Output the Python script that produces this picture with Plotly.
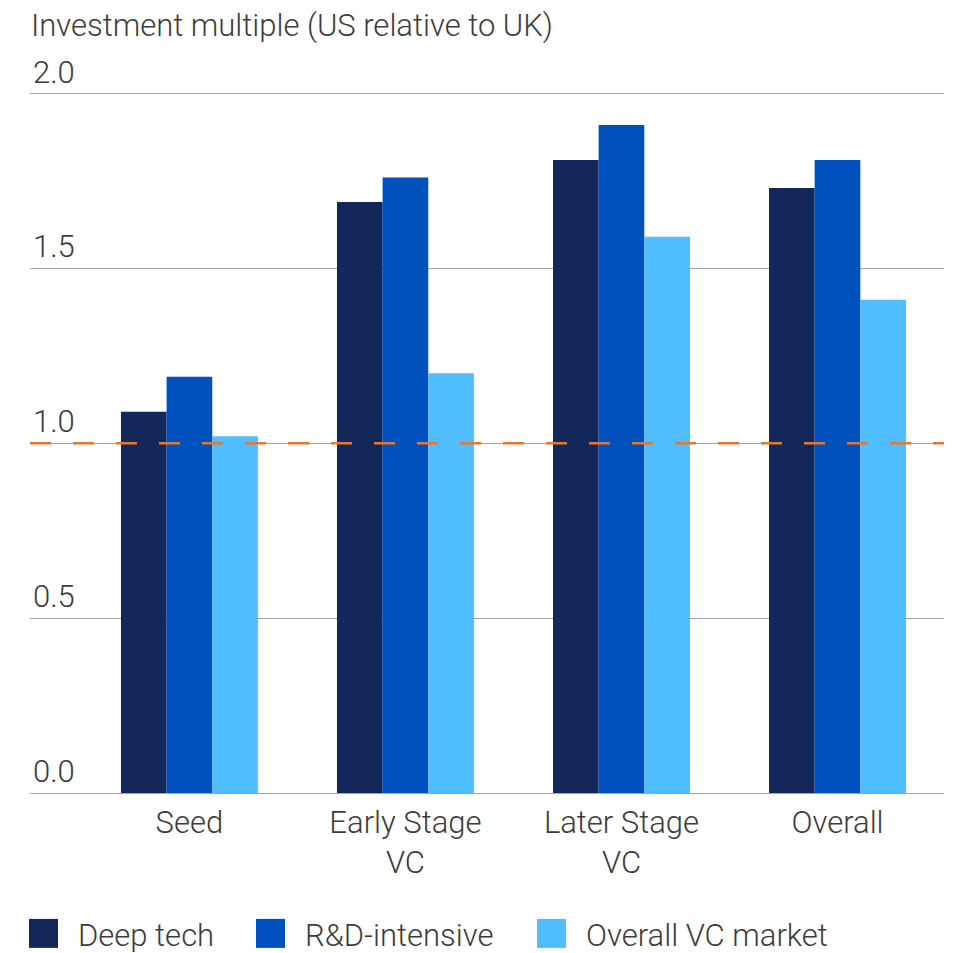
import plotly.graph_objects as go

# Investment multiple of US relative to UK, by funding stage
categories = ["Seed", "Early Stage<br>VC", "Later Stage<br>VC", "Overall"]
deep_tech = [1.09, 1.69, 1.81, 1.73]
rd_intensive = [1.19, 1.76, 1.91, 1.81]
overall_vc = [1.02, 1.20, 1.59, 1.41]

series_names = ["Deep tech", "R&D-intensive", "Overall VC market"]
series_colors = ["#14275a", "#0050be", "#50befe"]
y_ticks = [0.0, 0.5, 1.0, 1.5, 2.0]
parity_level = 1.0

FONT = "Roboto"
WEIGHT = 300
SIZE = 31
TEXT_COLOR = "#3c3c3c"
GRID_COLOR = "#a3a3a3"

fig = go.Figure()
for name, vals, color in zip(series_names, [deep_tech, rd_intensive, overall_vc], series_colors):
    fig.add_trace(go.Bar(x=list(range(len(categories))), y=vals, name=name,
                         marker=dict(color=color, line=dict(width=0)),
                         showlegend=False))

# Parity line (US = UK)
fig.add_shape(type="line", xref="paper", yref="y", x0=0, x1=1,
              y0=parity_level, y1=parity_level,
              line=dict(color="#e8772e", width=2.5, dash="21px,22px"), layer="above")

# Legend: square swatch + label per series, laid out along the bottom
legend_x = [29, 256, 537]   # left edge of each swatch, px
swatch = 29
legend_top = 919
W, H = 957, 953
ML, MR, MT, MB = 30, 13, 5.5, 160
pw, ph = W - ML - MR, H - MT - MB

def px_x(p):
    return (p - ML) / pw

def px_y(p):
    return (H - MB - p) / ph

annotations = [dict(text="Investment multiple (US relative to UK)",
                    xref="paper", yref="paper", x=px_x(29), y=px_y(25),
                    xanchor="left", yanchor="middle", showarrow=False,
                    font=dict(family=FONT, weight=WEIGHT, size=SIZE, color=TEXT_COLOR))]
for name, color, lx in zip(series_names, series_colors, legend_x):
    fig.add_shape(type="rect", xref="paper", yref="paper",
                  x0=px_x(lx), x1=px_x(lx + swatch),
                  y0=px_y(legend_top + swatch), y1=px_y(legend_top),
                  fillcolor=color, line=dict(width=0))
    annotations.append(dict(text=name, xref="paper", yref="paper",
                            x=px_x(lx + swatch + 18), y=px_y(legend_top + swatch / 2 + 2),
                            xanchor="left", yanchor="middle", showarrow=False,
                            font=dict(family=FONT, weight=WEIGHT, size=SIZE, color=TEXT_COLOR)))

fig.update_layout(
    width=W, height=H,
    margin=dict(l=ML, r=MR, t=MT, b=MB, autoexpand=False),
    paper_bgcolor="white", plot_bgcolor="white",
    barmode="group", bargap=0.366, bargroupgap=0,
    font=dict(family=FONT, weight=WEIGHT, size=SIZE, color=TEXT_COLOR),
    showlegend=False,
    xaxis=dict(range=[-0.738, 3.493], tickmode="array",
               tickvals=list(range(len(categories))), ticktext=categories,
               showgrid=False, zeroline=False, showline=False, ticks="",
               automargin=False, ticklabelstandoff=8,
               tickfont=dict(family=FONT, weight=WEIGHT, size=SIZE, color=TEXT_COLOR),
               fixedrange=True),
    yaxis=dict(range=[0, 2.25], tickmode="array", tickvals=y_ticks,
               ticktext=[f"{v:.1f}" for v in y_ticks],
               ticklabelposition="inside top", showgrid=True,
               gridcolor=GRID_COLOR, gridwidth=1, zeroline=True,
               zerolinecolor=GRID_COLOR, zerolinewidth=1, showline=False,
               ticks="", automargin=False,
               tickfont=dict(family=FONT, weight=WEIGHT, size=SIZE, color=TEXT_COLOR)),
    annotations=annotations,
)

fig.write_html("out.html")
